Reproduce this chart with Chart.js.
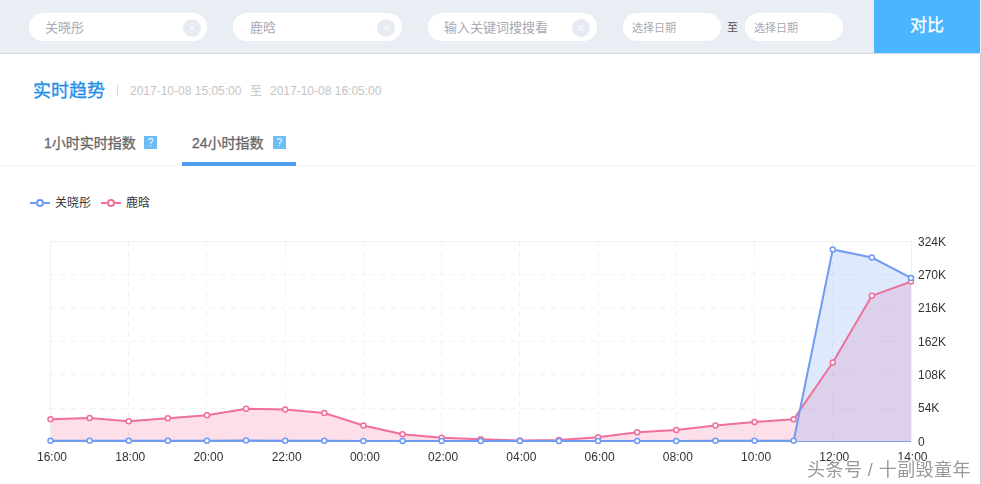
<!DOCTYPE html>
<html>
<head>
<meta charset="utf-8">
<script src="https://cdn.jsdelivr.net/npm/chart.js@4"></script>
<style>
html, body { margin: 0; padding: 0; background: #fff; }
body { width: 981px; height: 484px; position: relative; overflow: hidden;
    font-family: "Liberation Sans", "Noto Sans CJK SC", sans-serif; }
.abs { position: absolute; white-space: nowrap; }
#topbar { left: 0; top: 0; width: 981px; height: 53px; background: #e9edf4; border-bottom: 1px solid #d6dbe4; }
.pill { position: absolute; top: 13px; height: 28px; background: #fff; border-radius: 14px; }
.pill span { position: absolute; top: 6px; font-size: 13px; line-height: 18px; color: #a9a9b3; }
.pill i { position: absolute; top: 6px; width: 18px; height: 18px; border-radius: 50%; background: #e6eaf2; color: #f6f8fb;
    font: 15px/18px "Liberation Sans"; text-align: center; }
.date span { font-size: 11px; left: 9px; }
#btn { left: 874px; top: 0; width: 106px; height: 53px; background: #4bb6ff; color: #fff; font-size: 17px; line-height: 52px;
    text-align: center; -webkit-text-stroke: 0.3px #fff; }
#edge { left: 980px; top: 54px; width: 1px; height: 430px; background: #c6cad2; }
.q { width: 13px; height: 13px; background: #6cbcf6; color: #fff; font-size: 10px; line-height: 13px; text-align: center; }
.tab { font-size: 14px; line-height: 20px; color: #666; -webkit-text-stroke: 0.3px #666; }
#legend { left: 30px; top: 195px; font-size: 12px; line-height: 16px; color: #333; }
#legend div { position: absolute; top: 0; }
#legend svg { position: absolute; left: 0; top: 0; }
#legend b { position: absolute; top: 0; font-weight: normal; }
#chart_box { position: absolute; left: 0; top: 225px; width: 981px; height: 259px; }
#mark { left: 807px; top: 459px; font-size: 18px; line-height: 22px; letter-spacing: 0.45px; color: #999;
    text-shadow: 1px 0 0 #fff, -1px 0 0 #fff, 0 1px 0 #fff, 0 -1px 0 #fff; }
</style>
</head>
<body>
<div id="topbar" class="abs">
    <div class="pill" style="left:29px;width:178px"><span style="left:16px">关晓彤</span><i style="left:154px">×</i></div>
    <div class="pill" style="left:233px;width:169px"><span style="left:17px">鹿晗</span><i style="left:144px">×</i></div>
    <div class="pill" style="left:428px;width:169px"><span style="left:16px">输入关键词搜搜看</span><i style="left:144px">×</i></div>
    <div class="pill date" style="left:623px;width:98px"><span>选择日期</span></div>
    <div class="abs" style="left:727px;top:19px;font-size:11px;line-height:16px;color:#555">至</div>
    <div class="pill date" style="left:745px;width:98px"><span>选择日期</span></div>
</div>
<div id="btn" class="abs">对比</div>
<div id="edge" class="abs"></div>

<div class="abs" style="left:33px;top:79px;font-size:18px;line-height:24px;color:#1f8fe8;-webkit-text-stroke:0.3px #1f8fe8">实时趋势</div>
<div class="abs" style="left:117px;top:85px;width:1px;height:11px;background:#d8d8d8"></div>
<div class="abs" style="left:130px;top:83px;font-size:12px;line-height:16px;color:#c4c4c4">2017-10-08 15:05:00</div>
<div class="abs" style="left:250px;top:83px;font-size:12px;line-height:16px;color:#c4c4c4">至</div>
<div class="abs" style="left:270px;top:83px;font-size:12px;line-height:16px;color:#c4c4c4">2017-10-08 16:05:00</div>

<div class="abs tab" style="left:44px;top:133px">1小时实时指数</div>
<div class="abs q" style="left:144px;top:136px">?</div>
<div class="abs tab" style="left:192px;top:133px">24小时指数</div>
<div class="abs q" style="left:273px;top:136px">?</div>
<div class="abs" style="left:0;top:165px;width:980px;height:1px;background:#f4f5f7"></div>
<div class="abs" style="left:182px;top:162px;width:114px;height:4px;background:#4f9ff0"></div>

<div id="legend" class="abs"></div>
<div id="chart_box"><canvas id="TrendChart" width="981" height="259"></canvas></div>
<div id="mark" class="abs">头条号 / 十副毁童年</div>

<script>
const hours = ['16:00', '17:00', '18:00', '19:00', '20:00', '21:00', '22:00', '23:00',
    '00:00', '01:00', '02:00', '03:00', '04:00', '05:00', '06:00', '07:00',
    '08:00', '09:00', '10:00', '11:00', '12:00', '13:00', '14:00'];
const guan_values = [1200, 1100, 1100, 1200, 1200, 1600, 1200, 1100, 1000, 900, 900, 900, 800,
    900, 900, 1000, 1000, 1100, 1100, 1200, 311000, 298000, 265000];
const lu_values = [36000, 38000, 32700, 37500, 42400, 53000, 52000, 46000, 26000, 11600, 6000, 3500,
    1500, 2500, 6800, 15000, 18600, 26000, 31600, 36000, 128000, 236000, 259000];
const y_ticks = [0, 54000, 108000, 162000, 216000, 270000, 324000];
const series_names = ['关晓彤', '鹿晗'];
const series_colors = ['#6f9bf2', '#f06f9b'];

function build_legend(){
    // Line, ring, line swatch in front of each name
    const legend = document.getElementById('legend');
    const offsets = [0, 71];
    series_names.forEach((name, i) => {
        const item = document.createElement('div');
        item.style.left = offsets[i] + 'px';
        item.innerHTML = `<svg width="21" height="16"><path d="M0 8H6M14 8H20" stroke="${series_colors[i]}" stroke-width="2"/>` +
            `<circle cx="10" cy="8" r="3" fill="#fff" stroke="${series_colors[i]}" stroke-width="2"/></svg>` +
            `<b style="left:25px">${name}</b>`;
        legend.appendChild(item);
    });
}

function plot_trend(){
    const ctx = document.getElementById('TrendChart').getContext('2d');
    const data = {
        labels: hours,
        datasets: [
            {
                label: series_names[0],
                data: guan_values,
                fill: 'origin',
                clip: false,
                backgroundColor: 'rgba(111, 155, 242, 0.22)',
                borderColor: series_colors[0],
                borderWidth: 2,
                pointBackgroundColor: '#fff',
                pointBorderColor: series_colors[0],
                pointBorderWidth: 1.5,
                pointRadius: 2.5,
                tension: 0
            },
            {
                label: series_names[1],
                data: lu_values,
                fill: 'origin',
                clip: false,
                backgroundColor: 'rgba(240, 111, 155, 0.22)',
                borderColor: series_colors[1],
                borderWidth: 2,
                pointBackgroundColor: '#fff',
                pointBorderColor: series_colors[1],
                pointBorderWidth: 1.5,
                pointRadius: 2.5,
                tension: 0
            }
        ]
    };
    return new Chart(ctx, {
        type: 'line',
        data: data,
        options: {
            responsive: false,
            animation: false,
            layout: { padding: { left: 50.5, right: 0, top: 16.5, bottom: 0 } },
            plugins: {
                legend: { display: false },
                tooltip: { enabled: false },
                // all fills under all lines, so the pink line stays pink
                filler: { drawTime: 'beforeDatasetsDraw' }
            },
            scales: {
                x: {
                    offset: false,
                    grid: {
                        color: ctx => ctx.index % 2 === 0 ? '#f0f1f5' : 'transparent',
                        tickLength: 0
                    },
                    border: { display: true, color: '#7fa3ee', dash: ctx => ctx.index === 0 ? [] : [5, 5] },
                    ticks: {
                        autoSkip: false,
                        maxRotation: 0,
                        padding: 9,
                        labelOffset: 1.5,
                        color: '#333',
                        font: { family: 'Liberation Sans', size: 12 },
                        callback: (value, i) => i % 2 === 0 ? hours[i] : ''
                    },
                    afterFit: axis => { axis.height = 42.5; }
                },
                y: {
                    position: 'right',
                    min: 0,
                    max: 324000,
                    grid: { color: '#f0f1f5', tickLength: 0 },
                    border: { display: true, color: '#f0f1f5', dash: ctx => ctx.index === 6 ? [] : [5, 5] },
                    afterBuildTicks: axis => { axis.ticks = y_ticks.map(v => ({ value: v })); },
                    ticks: {
                        padding: 7,
                        labelOffset: 1,
                        color: '#333',
                        font: { family: 'Liberation Sans', size: 12 },
                        callback: value => value === 0 ? '0' : (value / 1000) + 'K'
                    },
                    afterFit: axis => { axis.width = 70; }
                }
            }
        }
    });
}

build_legend();
plot_trend();
</script>
</body>
</html>
